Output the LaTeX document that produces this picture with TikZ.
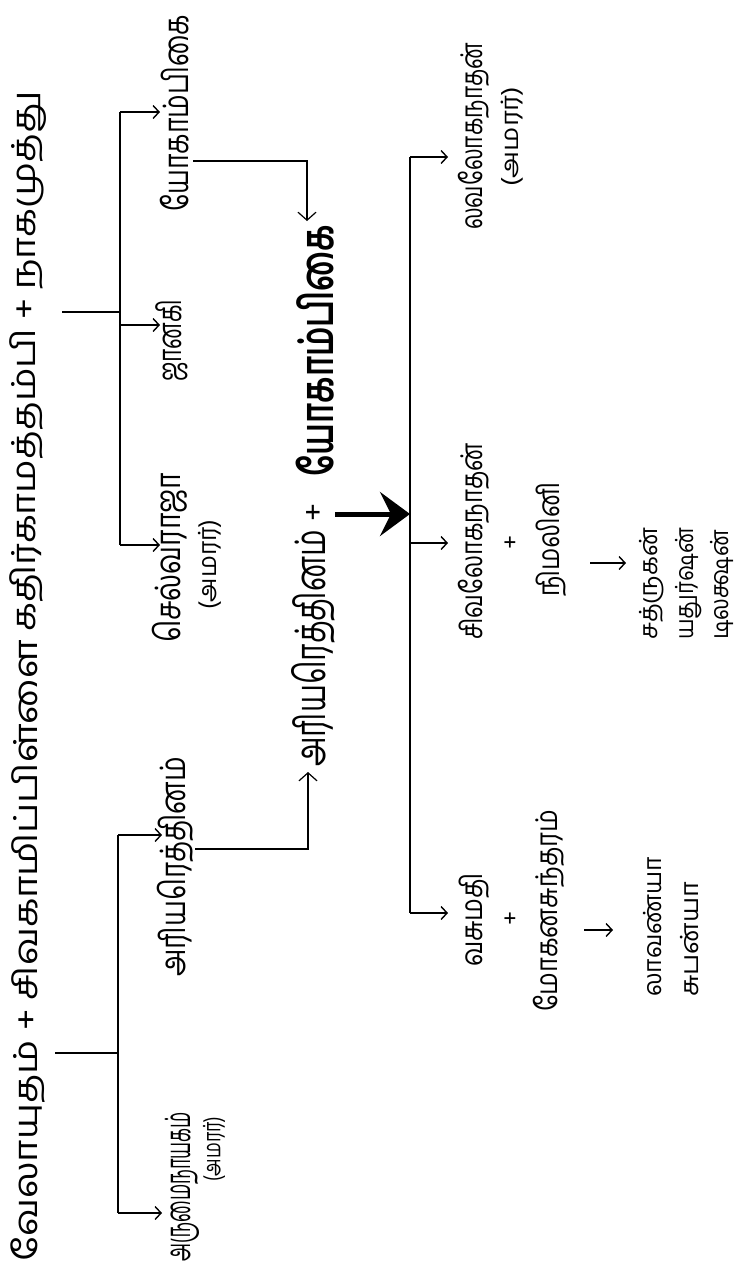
\documentclass[tikz,border=0pt]{standalone}
\usepackage{fontspec}
\newfontfamily\ta[Script=Tamil]{Hind Madurai}
\usetikzlibrary{arrows.meta}
\newlength\tmpw
\newcommand\tw[3]{\begingroup\ta\fontsize{#2pt}{#2pt}\selectfont
  \settowidth\tmpw{#3}\pgfmathsetmacro\rat{#1/\tmpw}%
  \edef\dofeat{\noexpand\addfontfeature{FakeStretch=\rat}}\dofeat #3\endgroup}
\newcommand\twb[3]{\begingroup\ta\bfseries\fontsize{#2pt}{#2pt}\selectfont
  \settowidth\tmpw{#3}\pgfmathsetmacro\rat{#1/\tmpw}%
  \edef\dofeat{\noexpand\addfontfeature{FakeStretch=\rat}}\dofeat #3\endgroup}
\begin{document}
\begin{tikzpicture}[x=1pt,y=-1pt,
  lbl/.style={rotate=90,anchor=west,inner sep=0pt},
  plus/.style={rotate=90,anchor=center,inner sep=0pt},
  ln/.style={line width=1.2pt},
  arr/.style={line width=1.2pt,-{Straight Barb[length=6pt,width=13pt,line width=1.4pt]}},
  varr/.style={line width=1.2pt,-{Straight Barb[length=8pt,width=18pt,line width=1.2pt]}},
  bigarr/.style={line width=5pt,-{Stealth[length=30pt,width=44pt,inset=11pt]}}]
\useasboundingbox (0,0) rectangle (740,1272);
\fill[white] (0,0) rectangle (740,1272);

% top generation
\node[lbl] (p1) at (28,1262) {\tw{622}{33}{வேலாயுதம் + சிவகாமிப்பிள்ளை}};
\node[lbl] (p2) at (28,632) {\tw{540}{33}{கதிர்காமத்தம்பி + நாகமுத்து}};

% first generation, left family
\node[lbl] (c1) at (182,1262) {\tw{150}{35}{அருமைநாயகம்}};
\node[lbl] (c1a) at (214,1182) {\tw{65}{24}{(அமரர்)}};
\node[lbl] (c2) at (175,977) {\tw{220}{35}{அரியரெத்தினம்}};

% first generation, right family
\node[lbl] (d1) at (170,643) {\tw{170}{35}{செல்வராஜா}};
\node[lbl] (d1a) at (210,610) {\tw{90}{25}{(அமரர்)}};
\node[lbl] (d2) at (172,382) {\tw{82}{33}{ஜானகி}};
\node[lbl] (d3) at (175,212) {\tw{197}{35}{யோகாம்பிகை}};

% couple
\node[lbl] (m1) at (313,767) {\tw{237}{42}{அரியரெத்தினம்}};
\node[plus] (mp) at (315,512) {\tw{18}{30}{+}};
\node[lbl] (m2) at (315,477) {\twb{252}{46}{யோகாம்பிகை}};

% second generation
\node[lbl] (g1) at (474,230) {\tw{187}{30}{லவலோகநாதன்}};
\node[lbl] (g1a) at (512,187) {\tw{100}{24}{(அமரர்)}};
\node[lbl] (g2) at (474,640) {\tw{197}{30}{சிவலோகநாதன்}};
\node[plus] (g2p) at (512,542) {\tw{14}{24}{+}};
\node[lbl] (g2s) at (551,597) {\tw{114}{30}{நிமலினி}};
\node[lbl] (g3) at (474,967) {\tw{94}{30}{வசுமதி}};
\node[plus] (g3p) at (512,918) {\tw{14}{24}{+}};
\node[lbl] (g3s) at (549,1012) {\tw{202}{30}{மோகனசுந்தரம்}};

% third generation
\node[lbl] (h1) at (652,640) {\tw{112}{25}{சத்ருகன்}};
\node[lbl] (h2) at (689,640) {\tw{112}{25}{யதுர்ஷன்}};
\node[lbl] (h3) at (722,640) {\tw{110}{25}{டிலக்ஷன்}};
\node[lbl] (k1) at (653,997) {\tw{140}{25}{லாவண்யா}};
\node[lbl] (k2) at (690,997) {\tw{115}{25}{சுபன்யா}};

% coordinates
\coordinate (a0) at (55,1053);
\coordinate (a1) at (118,1053);
\coordinate (a2) at (118,1213);
\coordinate (a3) at (118,835);
\coordinate (a2e) at (162,1213);
\coordinate (a3e) at (162,835);

\coordinate (b0) at (62,312);
\coordinate (b1) at (120,312);
\coordinate (b2) at (120,112);
\coordinate (b3) at (120,325);
\coordinate (b4) at (120,545);
\coordinate (b2e) at (160,112);
\coordinate (b3e) at (160,325);
\coordinate (b4e) at (160,545);

\coordinate (r0) at (195,849);
\coordinate (r1) at (308,849);
\coordinate (r2) at (308,772);
\coordinate (y0) at (193,161);
\coordinate (y1) at (307,161);
\coordinate (y2) at (307,221);

\coordinate (t0) at (335,514);
\coordinate (t1) at (410,514);

\coordinate (v0) at (410,157);
\coordinate (v1) at (410,543);
\coordinate (v2) at (410,913);
\coordinate (v0e) at (448,157);
\coordinate (v1e) at (448,543);
\coordinate (v2e) at (448,913);

\coordinate (w0) at (590,563);
\coordinate (w1) at (626,563);
\coordinate (u0) at (584,930);
\coordinate (u1) at (613,930);

% connectors
\draw[ln] (a0) -- (a1);
\draw[ln] (a3) -- (a2);
\draw[arr] (a2) -- (a2e);
\draw[arr] (a3) -- (a3e);

\draw[ln] (b0) -- (b1);
\draw[ln] (b2) -- (b4);
\draw[arr] (b2) -- (b2e);
\draw[arr] (b3) -- (b3e);
\draw[arr] (b4) -- (b4e);

\draw[varr] (r0) -- (r1) -- (r2);
\draw[varr] (y0) -- (y1) -- (y2);

\draw[bigarr] (t0) -- (t1);

\draw[ln] (v0) -- (v2);
\draw[arr] (v0) -- (v0e);
\draw[arr] (v1) -- (v1e);
\draw[arr] (v2) -- (v2e);

\draw[arr] (w0) -- (w1);
\draw[arr] (u0) -- (u1);
\end{tikzpicture}
\end{document}
